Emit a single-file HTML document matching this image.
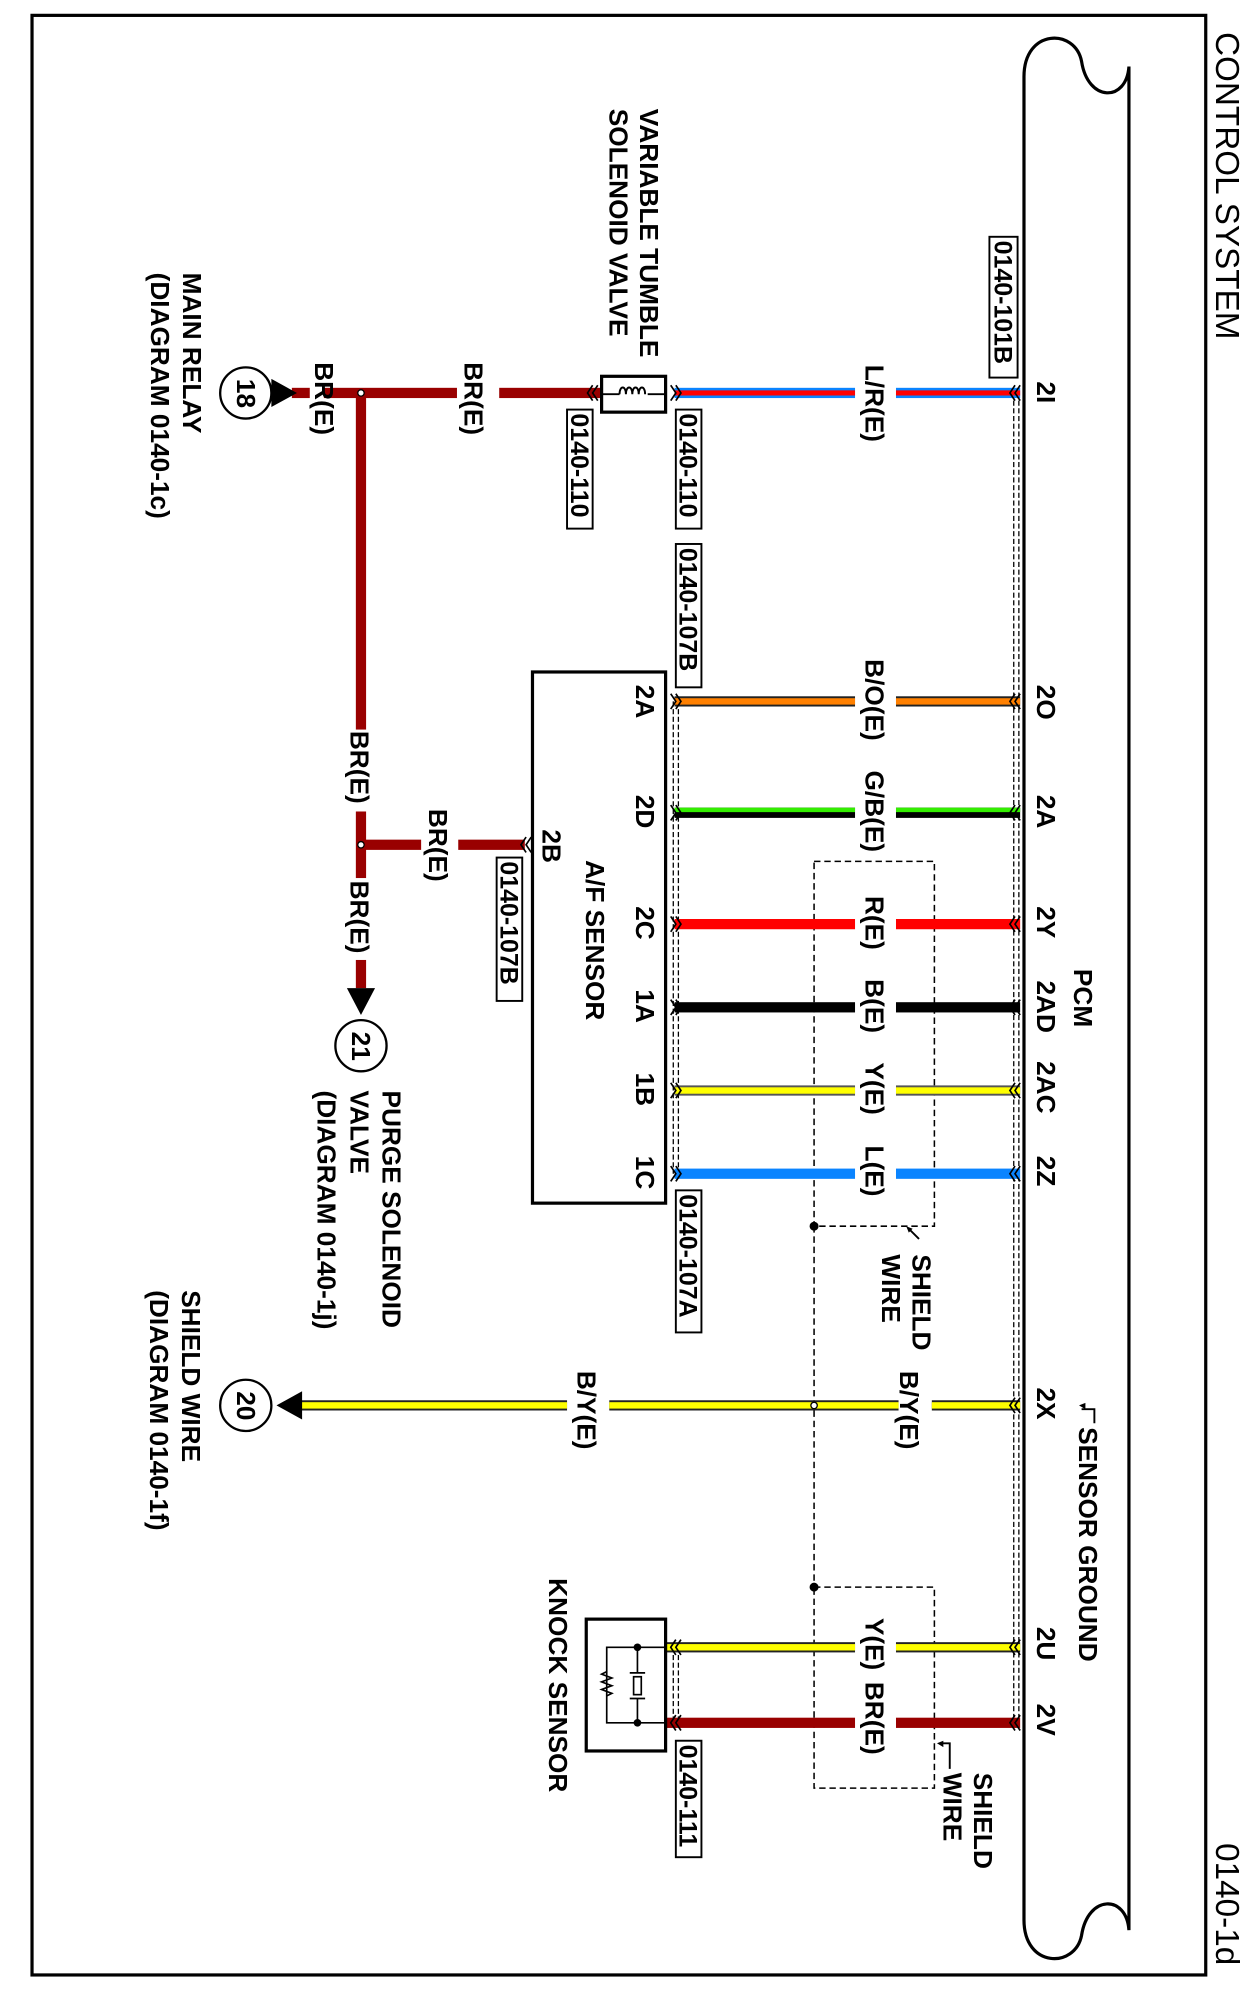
<!DOCTYPE html>
<html><head><meta charset="utf-8"><style>
html,body{margin:0;padding:0;background:#fff}
svg{display:block}
text{font-family:"Liberation Sans",Arial,sans-serif;font-weight:bold;fill:#000}
</style></head><body>
<svg width="1248" height="1998" viewBox="0 0 975 1561" xmlns="http://www.w3.org/2000/svg">
<rect x="25" y="12" width="917" height="1531" fill="none" stroke="#000" stroke-width="2.5"/>
<path d="M800,1500 V60 C800,22 840,22 845,48 C850,80 880,80 882,52 V1508 C880,1480 850,1480 845,1512 C840,1538 800,1538 800,1500" fill="none" stroke="#000" stroke-width="2.5"/>
<g stroke="#000" stroke-width="1" stroke-dasharray="4,2" fill="none">
<line x1="792" y1="307" x2="792" y2="1346"/><line x1="796" y1="307" x2="796" y2="1346"/>
<line x1="526" y1="548" x2="526" y2="917"/><line x1="530" y1="548" x2="530" y2="917"/>
<line x1="526" y1="1287" x2="526" y2="1346"/><line x1="530" y1="1287" x2="530" y2="1346"/>
</g>
<g stroke="#000" stroke-width="1.2" stroke-dasharray="5,3" fill="none">
<rect x="636" y="673" width="94" height="285"/>
<line x1="636" y1="958" x2="636" y2="1240"/>
<rect x="636" y="1240" width="94" height="157"/>
</g>
<circle cx="636" cy="958" r="3.5"/><circle cx="636" cy="1240" r="3.5"/>
<g>
<rect x="527" y="303" width="141" height="8" fill="#0a84ff"/><rect x="527" y="305" width="141" height="4" fill="#f00"/>
<rect x="700" y="303" width="97" height="8" fill="#0a84ff"/><rect x="700" y="305" width="97" height="4" fill="#f00"/>
<rect x="527" y="544" width="141" height="8" fill="#222"/><rect x="527" y="545.5" width="141" height="5" fill="#ff8000"/>
<rect x="700" y="544" width="97" height="8" fill="#222"/><rect x="700" y="545.5" width="97" height="5" fill="#ff8000"/>
<rect x="527" y="631" width="141" height="8" fill="#000"/><rect x="527" y="631" width="141" height="3.5" fill="#33ee00"/>
<rect x="700" y="631" width="97" height="8" fill="#000"/><rect x="700" y="631" width="97" height="3.5" fill="#33ee00"/>
<rect x="527" y="718" width="141" height="8" fill="#f00"/><rect x="700" y="718" width="97" height="8" fill="#f00"/>
<rect x="527" y="783" width="141" height="8" fill="#000"/><rect x="700" y="783" width="97" height="8" fill="#000"/>
<rect x="527" y="848" width="141" height="8" fill="#555"/><rect x="527" y="849.5" width="141" height="5" fill="#ff0"/>
<rect x="700" y="848" width="97" height="8" fill="#555"/><rect x="700" y="849.5" width="97" height="5" fill="#ff0"/>
<rect x="527" y="913" width="141" height="8" fill="#0a84ff"/><rect x="700" y="913" width="97" height="8" fill="#0a84ff"/>
<rect x="228" y="1094" width="215" height="8" fill="#222"/><rect x="228" y="1095.5" width="215" height="5" fill="#ff0"/>
<rect x="476" y="1094" width="226" height="8" fill="#222"/><rect x="476" y="1095.5" width="226" height="5" fill="#ff0"/>
<rect x="728" y="1094" width="69" height="8" fill="#222"/><rect x="728" y="1095.5" width="69" height="5" fill="#ff0"/>
<rect x="520" y="1283" width="148" height="8" fill="#222"/><rect x="520" y="1284.5" width="148" height="5" fill="#ff0"/>
<rect x="700" y="1283" width="97" height="8" fill="#222"/><rect x="700" y="1284.5" width="97" height="5" fill="#ff0"/>
<rect x="520" y="1342" width="148" height="8" fill="#990000"/><rect x="700" y="1342" width="97" height="8" fill="#990000"/>
<rect x="228" y="303" width="14" height="8" fill="#990000"/>
<rect x="253" y="303" width="104" height="8" fill="#990000"/>
<rect x="390" y="303" width="80" height="8" fill="#990000"/>
<rect x="278" y="307" width="8" height="263" fill="#990000"/>
<rect x="278" y="634" width="8" height="52" fill="#990000"/>
<rect x="278" y="750" width="8" height="22" fill="#990000"/>
<rect x="282" y="656" width="47" height="8" fill="#990000"/>
<rect x="358" y="656" width="52" height="8" fill="#990000"/>
</g>
<circle cx="282" cy="307" r="2.5" fill="#fff" stroke="#000" stroke-width="1"/>
<circle cx="282" cy="660" r="2.5" fill="#fff" stroke="#000" stroke-width="1"/>
<circle cx="636" cy="1098" r="2.5" fill="#fff" stroke="#000" stroke-width="1"/>
<g fill="none" stroke="#000" stroke-width="1.3">
<path d="M797,301 l-4,6 l4,6 M793,301 l-4,6 l4,6"/>
<path d="M797,542 l-4,6 l4,6 M793,542 l-4,6 l4,6"/>
<path d="M797,629 l-4,6 l4,6 M793,629 l-4,6 l4,6"/>
<path d="M797,716 l-4,6 l4,6 M793,716 l-4,6 l4,6"/>
<path d="M797,781 l-4,6 l4,6 M793,781 l-4,6 l4,6"/>
<path d="M797,846 l-4,6 l4,6 M793,846 l-4,6 l4,6"/>
<path d="M797,911 l-4,6 l4,6 M793,911 l-4,6 l4,6"/>
<path d="M797,1092 l-4,6 l4,6 M793,1092 l-4,6 l4,6"/>
<path d="M797,1281 l-4,6 l4,6 M793,1281 l-4,6 l4,6"/>
<path d="M797,1340 l-4,6 l4,6 M793,1340 l-4,6 l4,6"/>
<path d="M524,301 l4,6 l-4,6 M528,301 l4,6 l-4,6"/>
<path d="M524,542 l4,6 l-4,6 M528,542 l4,6 l-4,6"/>
<path d="M524,629 l4,6 l-4,6 M528,629 l4,6 l-4,6"/>
<path d="M524,716 l4,6 l-4,6 M528,716 l4,6 l-4,6"/>
<path d="M524,781 l4,6 l-4,6 M528,781 l4,6 l-4,6"/>
<path d="M524,846 l4,6 l-4,6 M528,846 l4,6 l-4,6"/>
<path d="M524,911 l4,6 l-4,6 M528,911 l4,6 l-4,6"/>
<path d="M528,1281 l-4,6 l4,6 M532,1281 l-4,6 l4,6"/>
<path d="M528,1340 l-4,6 l4,6 M532,1340 l-4,6 l4,6"/>
<path d="M463,301 l-4,6 l4,6 M467,301 l-4,6 l4,6"/>
<path d="M411,654 l-4,6 l4,6 M415,654 l-4,6 l4,6"/>
</g>
<rect x="470" y="294" width="50" height="28" fill="#fff" stroke="#000" stroke-width="2.5"/>
<path d="M470,308 H482 M508,308 H520 M482,308 V301 M482,301 H508 M508,301 V308" fill="none" stroke="#000" stroke-width="0"/>
<path d="M470,308 H484 M506,308 H520 M484,308 c0,-7 5,-7 5,0 c0,-7 5,-7 5,0 c0,-7 5,-7 5,0 c0,-7 5,-7 5,0" fill="none" stroke="#000" stroke-width="1.5"/>
<rect x="416" y="525" width="104" height="415" fill="none" stroke="#000" stroke-width="2.5"/>
<rect x="458" y="1265" width="62" height="103" fill="#fff" stroke="#000" stroke-width="2.5"/>
<g fill="none" stroke="#000" stroke-width="1.3">
<path d="M520,1287 H474 V1346 H520"/>
<path d="M498,1287 V1307 M498,1327 V1346 M492,1307 H504 M492,1327 H504"/>
<rect x="495" y="1310" width="6" height="14"/>
<path d="M474,1306 l-4,2 l8,3 l-8,3 l8,3 l-8,3 l8,3 l-4,2"/>
</g>
<circle cx="498" cy="1287" r="3"/><circle cx="498" cy="1346" r="3"/>
<circle cx="192" cy="307" r="20" fill="#fff" stroke="#000" stroke-width="1.8"/>
<polygon points="212,296 212,318 232,307"/>
<circle cx="192" cy="1098" r="20" fill="#fff" stroke="#000" stroke-width="1.8"/>
<polygon points="236,1087 236,1109 216,1098"/>
<circle cx="282" cy="817" r="20" fill="#fff" stroke="#000" stroke-width="1.8"/>
<polygon points="271,772 293,772 282,793"/>
<g fill="#fff" stroke="#000" stroke-width="1.5">
<rect x="773" y="185" width="22" height="110"/>
<rect x="528" y="320" width="20" height="93"/>
<rect x="443" y="320" width="20" height="93"/>
<rect x="528" y="425" width="20" height="112"/>
<rect x="388" y="670" width="20" height="112"/>
<rect x="528" y="930" width="20" height="111"/>
<rect x="528" y="1360" width="20" height="91"/>
</g>
<g font-size="19.5">
<text transform="translate(777,188) rotate(90)">0140-101B</text>
<text transform="translate(531,323) rotate(90)">0140-110</text>
<text transform="translate(446,323) rotate(90)">0140-110</text>
<text transform="translate(531,428) rotate(90)">0140-107B</text>
<text transform="translate(391,673) rotate(90)">0140-107B</text>
<text transform="translate(531,933) rotate(90)">0140-107A</text>
<text transform="translate(531,1363) rotate(90)">0140-111</text>
</g>
<text font-size="26" transform="translate(950,25) rotate(90)" style="font-weight:normal">CONTROL SYSTEM</text>
<text font-size="26" transform="translate(950,1440) rotate(90)" style="font-weight:normal">0140-1d</text>
<g font-size="20.5">
<text transform="translate(810,298) rotate(90)">2I</text>
<text transform="translate(810,535) rotate(90)">2O</text>
<text transform="translate(810,621) rotate(90)">2A</text>
<text transform="translate(810,708) rotate(90)">2Y</text>
<text transform="translate(810,766) rotate(90)">2AD</text>
<text transform="translate(810,829) rotate(90)">2AC</text>
<text transform="translate(810,903) rotate(90)">2Z</text>
<text transform="translate(810,1084) rotate(90)">2X</text>
<text transform="translate(810,1271) rotate(90)">2U</text>
<text transform="translate(810,1331) rotate(90)">2V</text>
<text transform="translate(497,535) rotate(90)">2A</text>
<text transform="translate(497,621) rotate(90)">2D</text>
<text transform="translate(497,708) rotate(90)">2C</text>
<text transform="translate(497,773) rotate(90)">1A</text>
<text transform="translate(497,838) rotate(90)">1B</text>
<text transform="translate(497,903) rotate(90)">1C</text>
<text transform="translate(424,648) rotate(90)">2B</text>
<text transform="translate(676,285) rotate(90)">L/R(E)</text>
<text transform="translate(676,515) rotate(90)">B/O(E)</text>
<text transform="translate(676,602) rotate(90)">G/B(E)</text>
<text transform="translate(676,700) rotate(90)">R(E)</text>
<text transform="translate(676,765) rotate(90)">B(E)</text>
<text transform="translate(676,830) rotate(90)">Y(E)</text>
<text transform="translate(676,895) rotate(90)">L(E)</text>
<text transform="translate(703,1071) rotate(90)">B/Y(E)</text>
<text transform="translate(451,1071) rotate(90)">B/Y(E)</text>
<text transform="translate(676,1264) rotate(90)">Y(E)</text>
<text transform="translate(676,1314) rotate(90)">BR(E)</text>
<text transform="translate(363,283) rotate(90)">BR(E)</text>
<text transform="translate(246,283) rotate(90)">BR(E)</text>
<text transform="translate(274,571) rotate(90)">BR(E)</text>
<text transform="translate(274,688) rotate(90)">BR(E)</text>
<text transform="translate(335,632) rotate(90)">BR(E)</text>
<text transform="translate(185,296) rotate(90)">18</text>
<text transform="translate(185,1087) rotate(90)">20</text>
<text transform="translate(275,806) rotate(90)">21</text>
<text transform="translate(500,85) rotate(90)">VARIABLE TUMBLE</text>
<text transform="translate(476,85) rotate(90)">SOLENOID VALVE</text>
<text transform="translate(143,213) rotate(90)">MAIN RELAY</text>
<text transform="translate(118,213) rotate(90)">(DIAGRAM 0140-1c)</text>
<text transform="translate(299,852) rotate(90)">PURGE SOLENOID</text>
<text transform="translate(274,852) rotate(90)">VALVE</text>
<text transform="translate(248,852) rotate(90)">(DIAGRAM  0140-1j)</text>
<text transform="translate(142,1008) rotate(90)">SHIELD WIRE</text>
<text transform="translate(117,1008) rotate(90)">(DIAGRAM 0140-1f)</text>
<text transform="translate(458,672) rotate(90)">A/F SENSOR</text>
<text transform="translate(839,757) rotate(90)">PCM</text>
<text transform="translate(843,1115) rotate(90)">SENSOR GROUND</text>
<text transform="translate(713,980) rotate(90)">SHIELD</text>
<text transform="translate(689,980) rotate(90)">WIRE</text>
<text transform="translate(761,1385) rotate(90)">SHIELD</text>
<text transform="translate(737,1385) rotate(90)">WIRE</text>
<text transform="translate(429,1233) rotate(90)">KNOCK SENSOR</text>
</g>
<g fill="none" stroke="#000" stroke-width="1.5">
<path d="M855,1112 V1101 H845"/>
<path d="M718,968 L710,960"/>
<path d="M742,1382 V1362 H735"/>
</g>
<polygon points="843,1098 848,1096 848,1101"/>
<polygon points="708,958 713,960 710,963"/>
<polygon points="732,1362 737,1360 737,1365"/>
</svg>
</body></html>
